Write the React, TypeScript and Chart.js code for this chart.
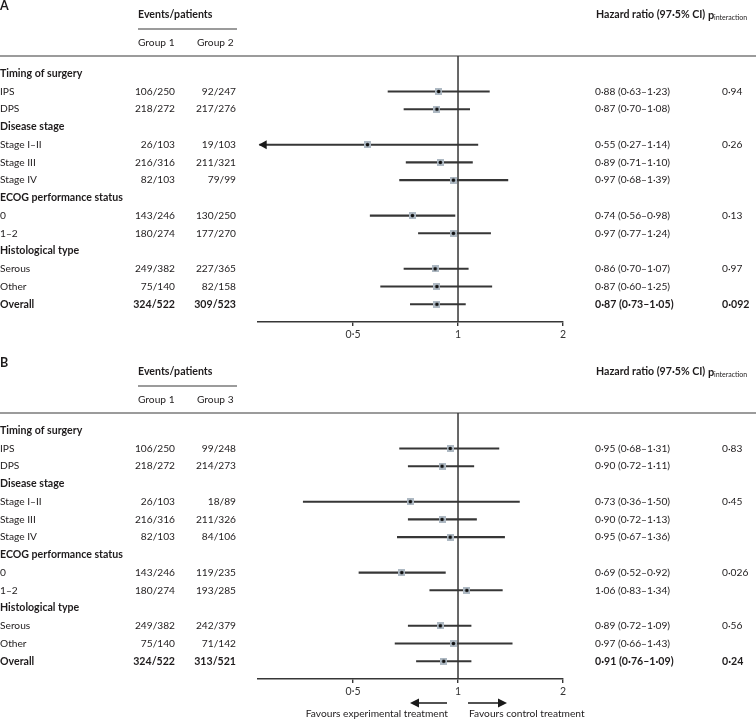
import React, { useEffect, useRef } from "react";
import { Chart, registerables } from "chart.js";

Chart.register(...registerables);
Chart.defaults.font.family = "Lato";

// ---------- data ----------
const rowLabels = [
  "Timing of surgery", "IPS", "DPS",
  "Disease stage", "Stage I–II", "Stage III", "Stage IV",
  "ECOG performance status", "0", "1–2",
  "Histological type", "Serous", "Other",
  "Overall",
];
const headerRows = [0, 3, 7, 10];
const overallRow = 13;

const group1A = [null, "106/250", "218/272", null, "26/103", "216/316", "82/103", null, "143/246", "180/274", null, "249/382", "75/140", "324/522"];
const group2A = [null, "92/247", "217/276", null, "19/103", "211/321", "79/99", null, "130/250", "177/270", null, "227/365", "82/158", "309/523"];
const hrA = [null, 0.88, 0.87, null, 0.55, 0.89, 0.97, null, 0.74, 0.97, null, 0.86, 0.87, 0.87];
const loA = [null, 0.63, 0.70, null, 0.27, 0.71, 0.68, null, 0.56, 0.77, null, 0.70, 0.60, 0.73];
const hiA = [null, 1.23, 1.08, null, 1.14, 1.10, 1.39, null, 0.98, 1.24, null, 1.07, 1.25, 1.05];
const pA = [null, "0·94", null, null, "0·26", null, null, null, "0·13", null, null, "0·97", null, "0·092"];

const group1B = [null, "106/250", "218/272", null, "26/103", "216/316", "82/103", null, "143/246", "180/274", null, "249/382", "75/140", "324/522"];
const group3B = [null, "99/248", "214/273", null, "18/89", "211/326", "84/106", null, "119/235", "193/285", null, "242/379", "71/142", "313/521"];
const hrB = [null, 0.95, 0.90, null, 0.73, 0.90, 0.95, null, 0.69, 1.06, null, 0.89, 0.97, 0.91];
const loB = [null, 0.68, 0.72, null, 0.36, 0.72, 0.67, null, 0.52, 0.83, null, 0.72, 0.66, 0.76];
const hiB = [null, 1.31, 1.11, null, 1.50, 1.13, 1.36, null, 0.92, 1.34, null, 1.09, 1.43, 1.09];
const pB = [null, "0·83", null, null, "0·45", null, null, null, "0·026", null, null, "0·56", null, "0·24"];

const xTicks = [0.5, 1, 2];
const xMin = 0.267;
const xMax = 2;

// ---------- styling ----------
const TEXT = "#1e1b1c";
const LINE = "#363636";
const FONT = "Lato";
const REG = 10.2;
const BOLD = 10.6;

type Panel = {
  letter: string;
  g2Title: string;
  g1: (string | null)[];
  g2: (string | null)[];
  hr: (number | null)[];
  lo: (number | null)[];
  hi: (number | null)[];
  p: (string | null)[];
  favours: boolean;
  height: number;
};

const panelA: Panel = { letter: "A", g2Title: "Group 2", g1: group1A, g2: group2A, hr: hrA, lo: loA, hi: hiA, p: pA, favours: false, height: 357 };
const panelB: Panel = { letter: "B", g2Title: "Group 3", g1: group1B, g2: group3B, hr: hrB, lo: loB, hi: hiB, p: pB, favours: true, height: 363 };

const fmt = (v: number) => v.toFixed(2).replace(".", "·");

function makeMarker() {
  const c = document.createElement("canvas");
  c.width = 7;
  c.height = 7;
  const g = c.getContext("2d")!;
  g.fillStyle = "#aeb9c3";
  g.fillRect(0, 0, 7, 7);
  g.fillStyle = "#0d0d0d";
  g.beginPath();
  g.arc(3.5, 3.5, 1.8, 0, Math.PI * 2);
  g.fill();
  return c;
}

function text(ctx: CanvasRenderingContext2D, s: string, x: number, y: number, align: CanvasTextAlign, bold: boolean, size?: number) {
  const sz = size ?? (bold ? BOLD : REG);
  ctx.font = `${bold ? "bold " : ""}${sz}px ${FONT}`;
  ctx.textAlign = align;
  ctx.textBaseline = "middle";
  ctx.fillStyle = TEXT;
  ctx.fillText(s, x, y);
}

function hline(ctx: CanvasRenderingContext2D, x1: number, x2: number, y: number, color: string, w: number) {
  ctx.strokeStyle = color;
  ctx.lineWidth = w;
  ctx.beginPath();
  ctx.moveTo(x1, y);
  ctx.lineTo(x2, y);
  ctx.stroke();
}

function arrowHead(ctx: CanvasRenderingContext2D, tipX: number, y: number, dir: number, len = 8, half = 4) {
  ctx.fillStyle = "#1a1a1a";
  ctx.beginPath();
  ctx.moveTo(tipX, y);
  ctx.lineTo(tipX - dir * len, y - half);
  ctx.lineTo(tipX - dir * len, y + half);
  ctx.closePath();
  ctx.fill();
}

function makePlugin(p: Panel) {
  return {
    id: "forest" + p.letter,
    beforeDatasetsDraw(chart: any) {
      const { ctx, chartArea, scales } = chart;
      const x1 = scales.x.getPixelForValue(1);
      ctx.save();
      // header rule across the full width
      hline(ctx, 0, chart.width, chartArea.top, "#7a7a7a", 1.6);
      // line of no effect
      ctx.strokeStyle = LINE;
      ctx.lineWidth = 1.5;
      ctx.beginPath();
      ctx.moveTo(x1, chartArea.top);
      ctx.lineTo(x1, chartArea.bottom);
      ctx.stroke();
      ctx.restore();
    },
    afterDatasetsDraw(chart: any) {
      const { ctx, scales } = chart;
      ctx.save();
      p.lo.forEach((lo, i) => {
        if (lo == null) return;
        if (lo <= 0.28) {
          arrowHead(ctx, scales.x.getPixelForValue(lo) - 1, scales.y.getPixelForValue(i), -1, 8, 4.5);
        }
      });
      ctx.restore();
    },
    afterDraw(chart: any) {
      const { ctx, chartArea, scales } = chart;
      const ys = scales.y;
      ctx.save();
      // panel letter and column headers
      text(ctx, p.letter, 0, 6, "left", true, 12.5);
      text(ctx, "Events/patients", 138, 15, "left", true);
      hline(ctx, 138, 237, 29, "#7a7a7a", 1.6);
      text(ctx, "Group 1", 138, 43, "left", false);
      text(ctx, p.g2Title, 197, 43, "left", false);
      text(ctx, "Hazard ratio (97·5% CI)", 596, 15, "left", true);
      text(ctx, "p", 708, 15, "left", true, 11);
      text(ctx, "interaction", 714, 18, "left", false, 7);

      rowLabels.forEach((lab, i) => {
        const y = ys.getPixelForValue(i);
        const isHead = headerRows.includes(i);
        const bold = isHead || i === overallRow;
        text(ctx, lab, 0, y, "left", bold);
        if (isHead) return;
        const g1 = p.g1[i];
        const g2 = p.g2[i];
        if (g1) text(ctx, g1, 175, y, "right", bold);
        if (g2) text(ctx, g2, 236, y, "right", bold);
        const hr = p.hr[i], lo = p.lo[i], hi = p.hi[i];
        if (hr != null && lo != null && hi != null) {
          text(ctx, `${fmt(hr)} (${fmt(lo)}–${fmt(hi)})`, 595, y, "left", bold);
        }
        const pv = p.p[i];
        if (pv) text(ctx, pv, 722, y, "left", bold);
      });

      if (p.favours) {
        const x1 = scales.x.getPixelForValue(1);
        const ay = chartArea.bottom + 24;
        ctx.strokeStyle = "#1a1a1a";
        ctx.lineWidth = 1.5;
        ctx.beginPath();
        ctx.moveTo(x1 - 11, ay);
        ctx.lineTo(x1 - 42, ay);
        ctx.moveTo(x1 + 10, ay);
        ctx.lineTo(x1 + 42, ay);
        ctx.stroke();
        arrowHead(ctx, x1 - 48, ay, -1, 9, 4.5);
        arrowHead(ctx, x1 + 49, ay, 1, 9, 4.5);
        text(ctx, "Favours experimental treatment", x1 - 10, chartArea.bottom + 35, "right", false);
        text(ctx, "Favours control treatment", x1 + 11, chartArea.bottom + 35, "left", false);
      }
      ctx.restore();
    },
  };
}

function makeChart(canvas: HTMLCanvasElement, p: Panel) {
  const marker = makeMarker();
  const ciData: any[] = [];
  const ptData: any[] = [];
  p.hr.forEach((hr, i) => {
    const lo = p.lo[i], hi = p.hi[i];
    if (hr == null || lo == null || hi == null) return;
    ciData.push({ x: [lo, hi], y: i });
    ptData.push({ x: hr, y: i });
  });
  const bottomH = p.height - 322;
  return new Chart(canvas, {
    type: "scatter",
    data: {
      datasets: [
        {
          type: "bar",
          indexAxis: "y",
          data: ciData,
          backgroundColor: LINE,
          borderWidth: 0,
          barThickness: 1.4,
          order: 2,
        } as any,
        {
          type: "scatter",
          data: ptData,
          pointStyle: marker,
          pointRadius: 3.5,
          order: 1,
        } as any,
      ],
    },
    options: {
      animation: false,
      responsive: false,
      events: [],
      layout: { padding: { left: 258, right: 193, top: 56, bottom: 0 } },
      plugins: { legend: { display: false }, tooltip: { enabled: false } },
      scales: {
        x: {
          type: "logarithmic",
          min: xMin,
          max: xMax,
          offset: false,
          afterBuildTicks: (s: any) => {
            s.ticks = xTicks.map((v) => ({ value: v }));
          },
          afterFit: (s: any) => {
            s.height = bottomH;
          },
          border: { display: true, color: LINE, width: 1.4 },
          grid: { display: true, offset: false, drawOnChartArea: false, drawTicks: true, tickLength: 4, color: LINE, lineWidth: 1.4 },
          ticks: {
            autoSkip: false,
            maxRotation: 0,
            padding: 2,
            color: "#333",
            font: { family: FONT, size: 10.5 },
            callback: (v: any) => String(v).replace(".", "·"),
          },
        },
        y: {
          type: "linear",
          reverse: true,
          min: -1,
          max: 14,
          offset: false,
          grid: { offset: false },
          display: false,
        },
      },
    } as any,
    plugins: [makePlugin(p)],
  });
}

export default function App() {
  const refA = useRef<HTMLCanvasElement>(null);
  const refB = useRef<HTMLCanvasElement>(null);
  useEffect(() => {
    document.body.style.margin = "0";
    const a = makeChart(refA.current!, panelA);
    const b = makeChart(refB.current!, panelB);
    return () => {
      a.destroy();
      b.destroy();
    };
  }, []);
  return (
    <div style={{ width: 756, height: 720, background: "#fff" }}>
      <canvas ref={refA} width={756} height={357} style={{ display: "block" }} />
      <canvas ref={refB} width={756} height={363} style={{ display: "block" }} />
    </div>
  );
}
